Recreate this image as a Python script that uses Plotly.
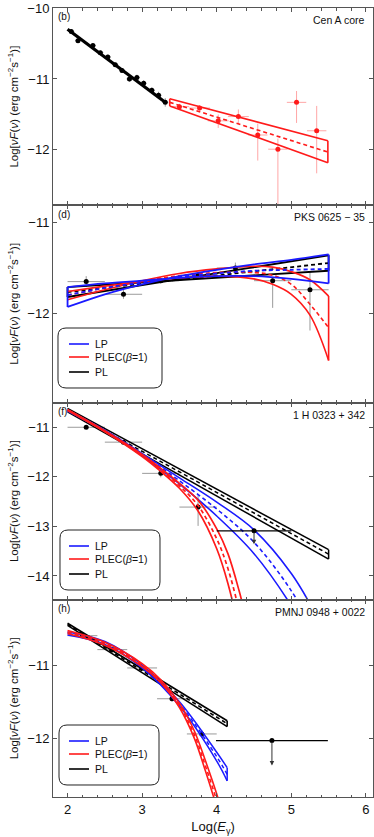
import plotly.graph_objects as go
from plotly.subplots import make_subplots

FONT = "Liberation Sans, Arial, Helvetica, sans-serif"
BLUE = "#1a1aff"
RED = "#ff1a1a"
BLACK = "#000000"
GREY_ERR = "rgba(120,120,120,0.75)"
RED_ERR = "rgba(255,60,60,0.45)"

# ---------------- Panel (b): Cen A core ----------------
b_lat_x = [2.05, 2.14, 2.34, 2.44, 2.54, 2.64, 2.73, 2.83, 2.93, 3.02, 3.13, 3.22, 3.31]
b_lat_y = [-10.33, -10.46, -10.53, -10.63, -10.69, -10.80, -10.88, -11.00, -10.98, -11.06, -11.16, -11.23, -11.33]
b_lat_err = [0.03, 0.03, 0.03, 0.03, 0.03, 0.03, 0.03, 0.04, 0.04, 0.04, 0.04, 0.05, 0.06]
b_lat_xerr = [0.04] * 13
b_pl_x = [2.0, 3.3]
b_pl_y = [-10.30, -11.32]
b_hess_x = [3.50, 3.77, 4.02, 4.29, 4.55, 4.82, 5.07, 5.34]
b_hess_y = [-11.39, -11.41, -11.59, -11.53, -11.79, -11.99, -11.33, -11.73]
b_hess_xerr = [0.13, 0.14, 0.14, 0.14, 0.13, 0.13, 0.13, 0.13]
b_hess_eplus = [0.04, 0.04, 0.09, 0.10, 0.16, 0.15, 0.16, 0.35]
b_hess_eminus = [0.04, 0.04, 0.10, 0.10, 0.36, 0.85, 0.29, 0.60]
b_bt_x = [3.37, 5.49]
b_bt_a = [-11.28, -11.87]
b_bt_mid = [-11.33, -12.03]
b_bt_b = [-11.38, -12.18]

# ---------------- Panel (d): PKS 0625-35 ----------------
d_x = [2.25, 2.75, 3.25, 3.75, 4.25, 4.75, 5.25]
d_y = [-11.65, -11.79, -11.64, -11.58, -11.50, -11.64, -11.74]
d_xerr = [0.25] * 7
d_eplus = [0.06, 0.05, 0.03, 0.03, 0.06, 0.04, 0.20]
d_eminus = [0.06, 0.05, 0.03, 0.03, 0.06, 0.30, 0.45]
d_pl_x = [2.0, 5.5]
d_pl_a = [-11.71, -11.53]
d_pl_mid = [-11.765, -11.445]
d_pl_b = [-11.82, -11.36]
d_lp_x = [2.0, 2.5, 3.0, 3.5, 4.0, 4.5, 5.0, 5.5]
d_lp_a = [-11.71, -11.67, -11.64, -11.61, -11.59, -11.59, -11.62, -11.67]
d_lp_mid = [-11.80, -11.72, -11.66, -11.60, -11.56, -11.53, -11.52, -11.51]
d_lp_b = [-11.93, -11.79, -11.68, -11.59, -11.52, -11.46, -11.41, -11.35]
d_ec_x = [2.0, 2.5, 3.0, 3.5, 4.0, 4.5, 4.75, 5.0, 5.25, 5.5]
d_ec_a = [-11.85, -11.74, -11.64, -11.56, -11.51, -11.48, -11.49, -11.54, -11.63, -11.81]
d_ec_mid = [-11.80, -11.72, -11.645, -11.585, -11.55, -11.55, -11.58, -11.68, -11.90, -12.16]
d_ec_b = [-11.76, -11.70, -11.65, -11.61, -11.59, -11.62, -11.68, -11.79, -12.02, -12.52]

# ---------------- Panel (f): 1H 0323+342 ----------------
f_x = [2.25, 2.75, 3.25, 3.75]
f_y = [-11.00, -11.30, -11.93, -12.61]
f_xerr = [0.25] * 4
f_eplus = [0.02, 0.03, 0.08, 0.25]
f_eminus = [0.02, 0.03, 0.08, 0.38]
f_ul_x = [4.5]
f_ul_y = [-13.09]
f_ul_xerr = [0.5]
f_ul_tip = -13.36
f_pl_x = [2.0, 5.5]
f_pl_a = [-10.62, -13.47]
f_pl_mid = [-10.655, -13.56]
f_pl_b = [-10.69, -13.66]
f_lp_x = [2.0, 2.5, 3.0, 3.5, 4.0, 4.5, 5.0, 5.3]
f_lp_a = [-10.65, -11.06, -11.53, -12.02, -12.51, -13.07, -13.95, -14.70]
f_lp_mid = [-10.66, -11.07, -11.55, -12.08, -12.65, -13.32, -14.30, -15.10]
f_lp_b = [-10.67, -11.08, -11.57, -12.14, -12.79, -13.55, -14.60, -15.40]
f_ec_x = [2.0, 2.5, 3.0, 3.25, 3.5, 3.75, 4.0, 4.15, 4.3, 4.4]
f_ec_a = [-10.64, -11.07, -11.55, -11.83, -12.13, -12.47, -13.05, -13.55, -14.30, -14.90]
f_ec_mid = [-10.65, -11.08, -11.57, -11.86, -12.18, -12.58, -13.25, -13.85, -14.70, -15.40]
f_ec_b = [-10.66, -11.09, -11.59, -11.89, -12.23, -12.69, -13.45, -14.15, -15.10, -15.90]

# ---------------- Panel (h): PMNJ 0948+0022 ----------------
h_x = [2.2, 2.6, 3.0, 3.4, 3.8]
h_y = [-10.60, -10.79, -11.04, -11.46, -11.94]
h_xerr = [0.2] * 5
h_err = [0.02, 0.02, 0.03, 0.04, 0.05]
h_ul_x = [4.74]
h_ul_y = [-12.03]
h_ul_xerr = [0.75]
h_ul_tip = -12.37
h_pl_x = [2.0, 4.14]
h_pl_a = [-10.43, -11.76]
h_pl_mid = [-10.445, -11.80]
h_pl_b = [-10.46, -11.84]
h_lp_x = [2.0, 2.5, 3.0, 3.5, 4.0, 4.14]
h_lp_a = [-10.55, -10.68, -11.00, -11.50, -12.19, -12.40]
h_lp_mid = [-10.57, -10.70, -11.02, -11.53, -12.25, -12.49]
h_lp_b = [-10.59, -10.72, -11.04, -11.56, -12.31, -12.58]
h_ec_x = [2.0, 2.5, 3.0, 3.25, 3.5, 3.7, 3.85, 4.0, 4.1]
h_ec_a = [-10.53, -10.69, -10.98, -11.20, -11.52, -11.90, -12.31, -12.76, -13.10]
h_ec_mid = [-10.55, -10.71, -11.00, -11.22, -11.55, -11.95, -12.38, -12.85, -13.20]
h_ec_b = [-10.57, -10.73, -11.02, -11.24, -11.58, -12.00, -12.45, -12.94, -13.30]

panel_labels = ["(b)", "(d)", "(f)", "(h)"]
source_names = ["Cen A core", "PKS 0625 \u2212 35", "1 H 0323 + 342", "PMNJ 0948 + 0022"]
legend_names = ["LP", "PLEC(<i>\u03b2</i>=1)", "PL"]
legend_colors = [BLUE, RED, BLACK]
y_ranges = [[-12.78, -10.0], [-12.985, -10.807], [-14.48, -10.5], [-12.80, -10.11]]
y_ticks = [[-12, -11, -10], [-12, -11], [-14, -13, -12, -11], [-12, -11]]
x_range = [1.805, 6.095]
x_ticks = [2, 3, 4, 5, 6]

fig = make_subplots(rows=4, cols=1, shared_xaxes=True, vertical_spacing=0)


def points(row, x, y, xerr, eplus, eminus, color, ecolor, size=5):
    fig.add_trace(go.Scatter(
        x=x, y=y, mode="markers",
        marker=dict(color=color, size=size),
        error_x=dict(type="data", array=xerr, color=ecolor, thickness=1, width=0),
        error_y=dict(type="data", array=eplus, arrayminus=eminus, color=ecolor, thickness=1, width=0),
        showlegend=False, hoverinfo="skip"), row=row, col=1)


def upper_limit(row, x, y, xerr, tip, color):
    fig.add_trace(go.Scatter(
        x=x, y=y, mode="markers",
        marker=dict(color=color, size=5),
        error_x=dict(type="data", array=xerr, color=color, thickness=1.3, width=0),
        showlegend=False, hoverinfo="skip"), row=row, col=1)
    ax = "x" if row == 1 else "x%d" % row
    ay = "y" if row == 1 else "y%d" % row
    fig.add_annotation(x=x[0], y=tip, ax=x[0], ay=y[0], xref=ax, yref=ay, axref=ax, ayref=ay,
                       text="", showarrow=True, arrowhead=2, arrowsize=0.9, arrowwidth=1,
                       arrowcolor="#333333")


def band(row, x, a, mid, b, color, name, width=1.5, shape="spline", ends=(True, True)):
    for yy in (a, b):
        fig.add_trace(go.Scatter(x=x, y=yy, mode="lines", name=name,
                                 line=dict(color=color, width=width, shape=shape),
                                 showlegend=False, hoverinfo="skip"), row=row, col=1)
    fig.add_trace(go.Scatter(x=x, y=mid, mode="lines", name=name,
                             line=dict(color=color, width=width, shape=shape, dash="4px,3px"),
                             showlegend=False, hoverinfo="skip"), row=row, col=1)
    for i, keep in zip((0, -1), ends):
        if keep:
            fig.add_trace(go.Scatter(x=[x[i], x[i]], y=[a[i], b[i]], mode="lines", name=name,
                                     line=dict(color=color, width=width),
                                     showlegend=False, hoverinfo="skip"), row=row, col=1)


# Panel b
points(1, b_lat_x, b_lat_y, b_lat_xerr, b_lat_err, b_lat_err, BLACK, GREY_ERR, size=5)
fig.add_trace(go.Scatter(x=b_pl_x, y=b_pl_y, mode="lines", name="PL",
                         line=dict(color=BLACK, width=3.2), showlegend=False), row=1, col=1)
points(1, b_hess_x, b_hess_y, b_hess_xerr, b_hess_eplus, b_hess_eminus, RED, RED_ERR, size=5)
band(1, b_bt_x, b_bt_a, b_bt_mid, b_bt_b, RED, "PL", width=1.6, shape="linear")

# Panel d
points(2, d_x, d_y, d_xerr, d_eplus, d_eminus, BLACK, GREY_ERR)
band(2, d_pl_x, d_pl_a, d_pl_mid, d_pl_b, BLACK, "PL", width=1.8, shape="linear")
band(2, d_ec_x, d_ec_a, d_ec_mid, d_ec_b, RED, "PLEC", width=1.6, ends=(False, True))
band(2, d_lp_x, d_lp_a, d_lp_mid, d_lp_b, BLUE, "LP", width=1.8)

# Panel f
points(3, f_x, f_y, f_xerr, f_eplus, f_eminus, BLACK, GREY_ERR)
band(3, f_pl_x, f_pl_a, f_pl_mid, f_pl_b, BLACK, "PL", width=1.5, shape="linear", ends=(False, True))
band(3, f_lp_x, f_lp_a, f_lp_mid, f_lp_b, BLUE, "LP", width=1.6, ends=(False, False))
band(3, f_ec_x, f_ec_a, f_ec_mid, f_ec_b, RED, "PLEC", width=1.7, ends=(False, False))
upper_limit(3, f_ul_x, f_ul_y, f_ul_xerr, f_ul_tip, BLACK)

# Panel h
points(4, h_x, h_y, h_xerr, h_err, h_err, BLACK, GREY_ERR)
band(4, h_pl_x, h_pl_a, h_pl_mid, h_pl_b, BLACK, "PL", width=1.6, shape="linear", ends=(False, True))
band(4, h_lp_x, h_lp_a, h_lp_mid, h_lp_b, BLUE, "LP", width=1.5, ends=(False, True))
band(4, h_ec_x, h_ec_a, h_ec_mid, h_ec_b, RED, "PLEC", width=1.6, ends=(False, False))
upper_limit(4, h_ul_x, h_ul_y, h_ul_xerr, h_ul_tip, BLACK)

# ---------------- axes ----------------
AXC = "#555555"
for r in range(1, 5):
    fig.update_xaxes(range=x_range, tickvals=x_ticks, ticks="inside", ticklen=4, tickwidth=1,
                     tickcolor=AXC, showline=True, linecolor=AXC, linewidth=1, mirror="allticks",
                     showgrid=False, zeroline=False, showticklabels=(r == 4),
                     minor=dict(dtick=0.2, tick0=2, ticks="inside", ticklen=2.5, tickcolor=AXC),
                     tickfont=dict(family=FONT, size=13, color="#111111"), row=r, col=1)
    fig.update_yaxes(range=y_ranges[r - 1], tickvals=y_ticks[r - 1], ticks="inside", ticklen=4,
                     tickwidth=1, tickcolor=AXC, showline=True, linecolor=AXC, linewidth=1,
                     mirror="allticks", showgrid=False, zeroline=False,
                     tickfont=dict(family=FONT, size=13, color="#111111"),
                     title=dict(text="Log[<i>\u03bdF</i>(<i>\u03bd</i>) (erg cm<sup>\u22122</sup>s<sup>\u22121</sup>)]",
                                font=dict(family=FONT, size=11.5, color="#111111"), standoff=6),
                     row=r, col=1)
fig.update_xaxes(title=dict(text="Log(<i>E</i><sub>\u03b3</sub>)", font=dict(family=FONT, size=13, color="#111111"),
                            standoff=6), row=4, col=1)

# ---------------- text, legends ----------------
L, R, T, B = 53, 1, 8, 40
W, H = 374, 837
PW, PH = W - L - R, H - T - B


def px_x(px):
    return (px - L) / PW


def px_y(py):
    return (H - B - py) / PH


panel_tops = [T + i * PH / 4 for i in range(4)]
for i in range(4):
    top = panel_tops[i]
    fig.add_annotation(x=px_x(56), y=px_y(top + 9), xref="paper", yref="paper", text=panel_labels[i],
                       showarrow=False, xanchor="left", yanchor="middle",
                       font=dict(family=FONT, size=10, color="#111111"))
    fig.add_annotation(x=px_x(367), y=px_y(top + 12), xref="paper", yref="paper", text=source_names[i],
                       showarrow=False, xanchor="right", yanchor="middle",
                       font=dict(family=FONT, size=10.5, color="#111111"))

legend_boxes = [(58, 328, 162, 388), (60, 530, 160, 590), (59, 725, 159, 785)]
row_offsets = [16, 29, 44]


def rounded_path(x0, y0, x1, y1, r):
    pts = [("M", x0 + r, y0), ("L", x1 - r, y0), ("Q", x1, y0, x1, y0 + r), ("L", x1, y1 - r),
           ("Q", x1, y1, x1 - r, y1), ("L", x0 + r, y1), ("Q", x0, y1, x0, y1 - r),
           ("L", x0, y0 + r), ("Q", x0, y0, x0 + r, y0)]
    s = ""
    for p in pts:
        cmd = p[0]
        coords = p[1:]
        parts = []
        for j in range(0, len(coords), 2):
            parts.append("%.5f,%.5f" % (px_x(coords[j]), px_y(coords[j + 1])))
        s += cmd + " " + " ".join(parts) + " "
    return s + "Z"


for (x0, y0, x1, y1) in legend_boxes:
    fig.add_shape(type="path", path=rounded_path(x0, y0, x1, y1, 8), xref="paper", yref="paper",
                  line=dict(color="#222222", width=1), fillcolor="rgba(255,255,255,0)")
    for name, col, off in zip(legend_names, legend_colors, row_offsets):
        yy = y0 + off
        fig.add_shape(type="line", x0=px_x(69), x1=px_x(89), y0=px_y(yy), y1=px_y(yy),
                      xref="paper", yref="paper", line=dict(color=col, width=1.6))
        fig.add_annotation(x=px_x(92.5), y=px_y(yy), xref="paper", yref="paper", text=name,
                           showarrow=False, xanchor="left", yanchor="middle",
                           font=dict(family=FONT, size=10.5, color="#111111"))

fig.update_layout(width=W, height=H, margin=dict(l=L, r=R, t=T, b=B, autoexpand=False),
                  plot_bgcolor="white", paper_bgcolor="white", showlegend=False,
                  font=dict(family=FONT, color="#111111"))

fig.write_html("out.html", config={"displayModeBar": False},
               post_script="document.body.style.margin='0';document.body.style.overflow='hidden';")
